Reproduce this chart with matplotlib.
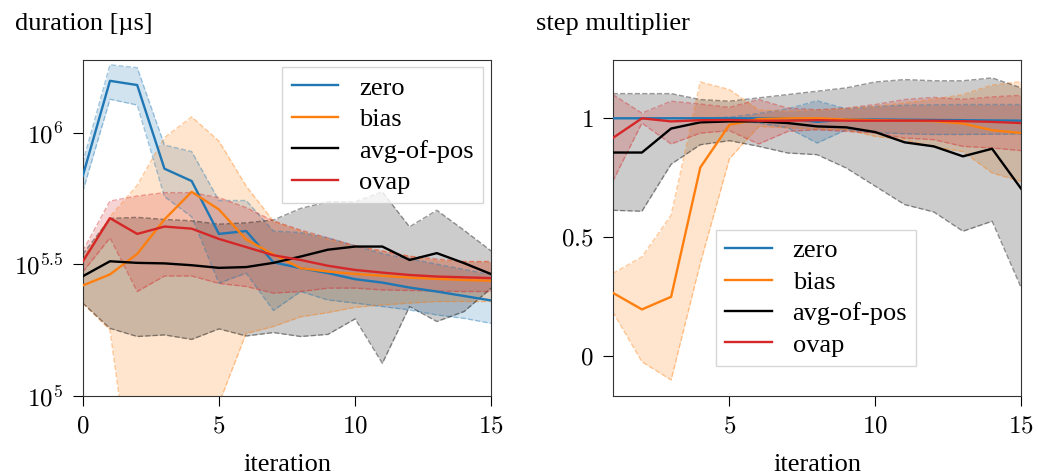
import numpy as np
import matplotlib
matplotlib.use('Agg')
import matplotlib.pyplot as plt
from matplotlib.ticker import NullLocator

plt.rcParams['font.family'] = 'Liberation Serif'
plt.rcParams['mathtext.fontset'] = 'cm'

methods = ['zero', 'bias', 'avg-of-pos', 'ovap']
colors = ['#1f77b4', '#ff7f0e', 'black', '#d62728']

# duration per iteration, log10 of microseconds (mean, upper, lower)
iters_dur = np.arange(0, 16)
dur_mean = {
    'zero': [5.835, 6.197, 6.181, 5.863, 5.816, 5.615, 5.626, 5.507, 5.485, 5.466, 5.443, 5.43, 5.411, 5.396, 5.379, 5.362],
    'bias': [5.419, 5.461, 5.539, 5.670, 5.775, 5.708, 5.594, 5.537, 5.485, 5.472, 5.463, 5.456, 5.449, 5.444, 5.44, 5.437],
    'avg-of-pos': [5.454, 5.511, 5.505, 5.503, 5.496, 5.486, 5.489, 5.505, 5.529, 5.555, 5.567, 5.567, 5.516, 5.542, 5.504, 5.462],
    'ovap': [5.51, 5.675, 5.615, 5.643, 5.635, 5.596, 5.565, 5.534, 5.516, 5.494, 5.478, 5.468, 5.459, 5.453, 5.45, 5.447],
}
dur_hi = {
    'zero': [5.885, 6.258, 6.247, 5.953, 5.928, 5.742, 5.742, 5.626, 5.62, 5.6, 5.57, 5.54, 5.52, 5.5, 5.48, 5.46],
    'bias': [5.52, 5.68, 5.8, 5.981, 6.06, 5.968, 5.797, 5.664, 5.626, 5.594, 5.57, 5.55, 5.53, 5.515, 5.51, 5.51],
    'avg-of-pos': [5.537, 5.674, 5.678, 5.670, 5.665, 5.652, 5.657, 5.668, 5.712, 5.737, 5.737, 5.775, 5.642, 5.705, 5.629, 5.55],
    'ovap': [5.55, 5.74, 5.759, 5.772, 5.772, 5.753, 5.715, 5.664, 5.63, 5.6, 5.57, 5.55, 5.53, 5.52, 5.51, 5.51],
}
dur_lo = {
    'zero': [5.776, 6.127, 6.105, 5.757, 5.68, 5.428, 5.466, 5.324, 5.396, 5.364, 5.352, 5.339, 5.326, 5.307, 5.294, 5.275],
    'bias': [5.352, 5.25, 4.5, 4.4, 4.6, 4.97, 5.237, 5.263, 5.30, 5.316, 5.336, 5.345, 5.352, 5.358, 5.358, 5.358],
    'avg-of-pos': [5.352, 5.256, 5.225, 5.231, 5.214, 5.254, 5.227, 5.24, 5.225, 5.233, 5.292, 5.123, 5.339, 5.282, 5.32, 5.409],
    'ovap': [5.47, 5.60, 5.396, 5.455, 5.455, 5.427, 5.415, 5.39, 5.396, 5.409, 5.409, 5.402, 5.40, 5.398, 5.396, 5.396],
}

# step multiplier per iteration (mean, upper, lower)
iters_step = np.arange(1, 16)
step_mean = {
    'zero': [1, 1, 1, 1, 1, 1, 1, 0.985, 0.995, 0.995, 0.994, 0.993, 0.992, 0.991, 0.99],
    'bias': [0.266, 0.196, 0.249, 0.793, 0.973, 0.997, 1.0, 1.0, 0.995, 0.992, 0.99, 0.988, 0.978, 0.95, 0.938],
    'avg-of-pos': [0.856, 0.856, 0.957, 0.983, 0.987, 0.987, 0.980, 0.966, 0.962, 0.942, 0.899, 0.882, 0.84, 0.872, 0.703],
    'ovap': [0.917, 1.0, 0.987, 0.992, 0.993, 0.99, 0.99, 0.992, 0.99, 0.99, 0.99, 0.99, 0.988, 0.985, 0.98],
}
step_hi = {
    'zero': [1.0, 1.0, 1.0, 1.0, 1.005, 1.02, 1.04, 1.074, 1.04, 1.05, 1.055, 1.057, 1.058, 1.058, 1.058],
    'bias': [0.347, 0.417, 0.592, 1.153, 1.121, 1.035, 1.03, 1.035, 1.04, 1.05, 1.065, 1.08, 1.1, 1.14, 1.155],
    'avg-of-pos': [1.104, 1.104, 1.104, 1.079, 1.072, 1.086, 1.1, 1.114, 1.128, 1.153, 1.163, 1.158, 1.158, 1.17, 1.128],
    'ovap': [1.1, 1.022, 1.072, 1.06, 1.046, 1.079, 1.043, 1.036, 1.043, 1.058, 1.079, 1.088, 1.08, 1.09, 1.097],
}
step_lo = {
    'zero': [1.0, 1.0, 1.0, 1.0, 0.995, 0.98, 0.96, 0.896, 0.952, 0.94, 0.935, 0.932, 0.932, 0.933, 0.934],
    'bias': [0.186, -0.024, -0.101, 0.39, 0.83, 0.966, 0.96, 0.955, 0.952, 0.924, 0.91, 0.88, 0.86, 0.77, 0.735],
    'avg-of-pos': [0.613, 0.609, 0.807, 0.889, 0.906, 0.882, 0.854, 0.847, 0.791, 0.714, 0.637, 0.606, 0.525, 0.567, 0.286],
    'ovap': [0.735, 0.98, 0.892, 0.938, 0.948, 0.892, 0.945, 0.952, 0.945, 0.938, 0.917, 0.91, 0.882, 0.875, 0.864],
}

fig = plt.figure(figsize=(10.38, 4.76), dpi=100)
ax1 = fig.add_axes([0.0797, 0.1687, 0.3936, 0.7046])
ax2 = fig.add_axes([0.5903, 0.1687, 0.3936, 0.7046])


def draw_bands(ax, x, mean, hi, lo, scale):
    # shaded spread with dashed edges first, mean lines on top
    for m, c in zip(methods, colors):
        h = scale(np.array(hi[m]))
        l = scale(np.array(lo[m]))
        ax.fill_between(x, l, h, color=c, alpha=0.2, lw=0, zorder=1)
        ax.plot(x, h, ls='--', color=c, alpha=0.4, lw=1, zorder=2)
        ax.plot(x, l, ls='--', color=c, alpha=0.4, lw=1, zorder=2)
    for m, c in zip(methods, colors):
        ax.plot(x, scale(np.array(mean[m])), color=c, lw=1.7, label=m, zorder=3)


draw_bands(ax1, iters_dur, dur_mean, dur_hi, dur_lo, lambda v: 10 ** v)
draw_bands(ax2, iters_step, step_mean, step_hi, step_lo, lambda v: v)

# duration panel
ax1.set_yscale('log')
ax1.set_xlim(0, 15)
ax1.set_ylim(1e5, 10 ** 6.275)
ax1.set_yticks([1e5, 10 ** 5.5, 1e6])
ax1.set_yticklabels([r'$10^{5}$', r'$10^{5.5}$', r'$10^{6}$'])
ax1.yaxis.set_minor_locator(NullLocator())
ax1.set_xticks([0, 5, 10, 15])
ax1.set_xticklabels([r'$0$', r'$5$', r'$10$', r'$15$'])

# step multiplier panel
ax2.set_xlim(1, 15)
ax2.set_ylim(-0.167, 1.244)
ax2.set_yticks([0, 0.5, 1])
ax2.set_yticklabels([r'$0$', r'$0.5$', r'$1$'])
ax2.set_xticks([5, 10, 15])
ax2.set_xticklabels([r'$5$', r'$10$', r'$15$'])

for ax in (ax1, ax2):
    ax.tick_params(labelsize=18, length=7, width=0.8, pad=7)
    ax.set_xlabel('iteration', fontsize=19, labelpad=12)
    for s in ax.spines.values():
        s.set_linewidth(0.8)
        s.set_color('#333333')

legend_style = dict(borderaxespad=0, fontsize=19, handlelength=1.75, handletextpad=0.8,
                    labelspacing=0.3, fancybox=False, edgecolor='0.8', framealpha=0.8,
                    borderpad=0.35)
ax1.legend(loc='upper right', bbox_to_anchor=(0.979, 0.980), **legend_style)
ax2.legend(loc='lower left', bbox_to_anchor=(0.253, 0.089), **legend_style)

fig.text(15 / 1038, 1 - 30 / 476, 'duration [µs]', fontsize=19, ha='left', va='baseline')
fig.text(536 / 1038, 1 - 30 / 476, 'step multiplier', fontsize=19, ha='left', va='baseline')

fig.savefig('out.png', dpi=100)
